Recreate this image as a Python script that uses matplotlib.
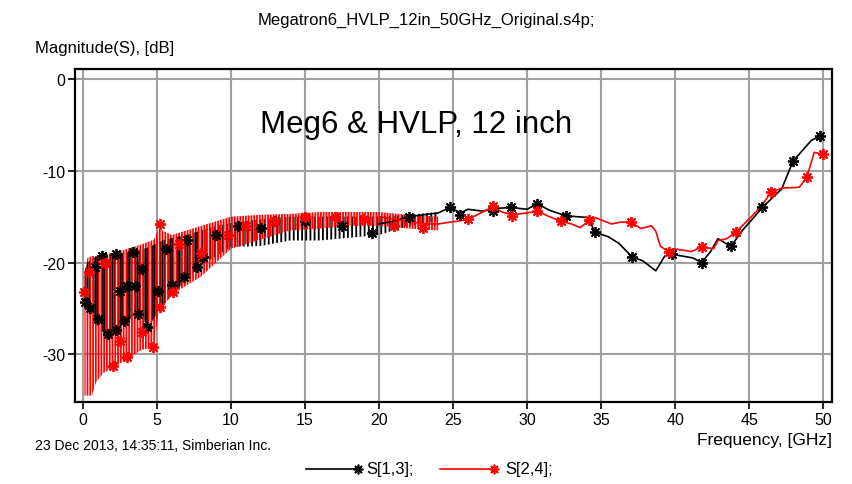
import numpy as np
import matplotlib
matplotlib.use('Agg')
import matplotlib.pyplot as plt
from matplotlib.lines import Line2D

plt.rcParams['font.family'] = ['Liberation Sans', 'DejaVu Sans']
plt.rcParams['axes.unicode_minus'] = False
plt.rcParams['hatch.linewidth'] = 1.3

# ---- data ----
# low-frequency ripple bands (vertical spikes), GHz / dB
blk_band_f  = [0.1, 0.3, 0.7, 1.5, 2.5, 3.5, 4.5, 5.5, 7, 8, 9, 10, 12, 14, 16, 18, 20, 22, 24]
blk_band_hi = [-21, -20, -19.5, -19, -19, -18.8, -18.3, -17.5, -17, -16.5, -16, -15.7, -15.3, -15, -15, -15, -15, -14.8, -14.5]
blk_band_lo = [-24.3, -25.3, -26.3, -27.9, -27.0, -25.8, -26.8, -24.5, -21.8, -20.3, -19.3, -18.3, -18.2, -17.6, -17.6, -17.3, -17, -16, -15.5]

red_band_f  = [0.1, 0.3, 0.6, 0.9, 1.4, 2, 3, 4, 4.8, 5.1, 6, 7, 8, 9, 10, 11, 12, 14, 16, 18, 20, 22, 24]
red_band_hi = [-21.5, -19.5, -19.3, -19.3, -19.2, -19, -18.5, -18, -17.5, -16.3, -17, -16.5, -16, -15.5, -15, -14.9, -14.8, -14.7, -14.5, -14.5, -14.5, -14.8, -15]
red_band_lo = [-34.5, -34.5, -34.5, -33, -32, -31.5, -30.5, -29.5, -29.3, -25.5, -23.5, -22.5, -21.5, -20, -18.5, -18, -17.5, -16.5, -16.3, -16, -16, -16.3, -16.5]

# S[1,3] trace above 20 GHz
s13_f  = [20, 21, 22, 23, 24, 24.8, 25.5, 26, 27, 28, 28.9, 30, 30.7, 31.5, 32.6, 33.3, 34.1, 34.6, 35.5, 36.2, 37.1, 37.8,
          38.7, 39.3, 39.8, 40.5, 41.2, 41.8, 42.4, 42.9, 43.4, 43.8, 44.5, 45.2, 45.9, 46.6, 47.2, 47.6, 48.0, 48.6,
          49.2, 49.7, 50]
s13_db = [-15.8, -15.5, -15, -14.8, -14.6, -14.0, -14.6, -14.2, -14.4, -14.1, -14.0, -14.2, -13.6, -14.3, -14.9, -15.0,
          -15.1, -16.7, -17.2, -17.9, -19.4, -19.8, -20.9, -19.3, -19.1, -19.3, -19.5, -20.0, -18.8, -17.4, -17.9, -18.2,
          -16.6, -15.3, -14.0, -12.9, -12.0, -10.4, -8.9, -7.8, -6.7, -6.3, -6.2]

# S[2,4] trace above 20 GHz
s24_f  = [20, 21, 22, 23, 24, 24.8, 25.3, 26, 27, 27.7, 28.3, 29, 30, 30.7, 31.5, 32.3, 33, 33.6, 34.2, 34.6, 35.7, 36.3,
          37, 37.7, 38.4, 38.7, 39, 39.6, 39.9, 41.1, 41.8, 42.6, 42.9, 43.5, 44.1, 45.1, 45.8, 46.5, 47.2, 48.4, 48.9,
          49.4, 50]
s24_db = [-15, -15.3, -15.5, -15.8, -15.8, -15.6, -15.5, -15.3, -14.5, -13.9, -14.5, -14.8, -14.6, -14.4, -15, -15.5,
          -15.8, -16.2, -15.4, -15.1, -15.8, -15.6, -15.6, -16.3, -16.0, -16.6, -18.2, -18.9, -18.5, -18.8, -18.3, -18.5,
          -17.6, -17.4, -16.7, -15.1, -13.9, -12.3, -11.9, -11.8, -10.7, -8.0, -8.2]

# asterisk markers
s13_mk_f  = [0.15, 0.5, 1.0, 1.7, 2.2, 2.8, 3.7, 4.3, 2.5, 3.0, 3.5, 4.0, 5.1, 6.0, 6.8, 7.7, 8.1, 1.3, 2.2, 3.4, 0.8,
             5.6, 7.0, 9.0, 10.5, 12.0, 13.0, 15.0, 17.5, 19.5, 22.0, 24.8, 25.5, 27.7, 28.9, 30.7, 32.6, 34.6, 37.1,
             39.8, 41.8, 43.8, 45.9, 48.0, 49.8]
s13_mk_db = [-24.3, -25.0, -26.2, -27.8, -27.3, -26.4, -25.6, -27.0, -23.1, -22.6, -22.6, -20.7, -23.1, -22.4, -21.6,
             -20.5, -19.4, -19.3, -19.1, -18.9, -20.5, -18.5, -17.5, -17.0, -16.0, -16.2, -15.5, -15.5, -16.0, -16.8,
             -15.0, -14.0, -14.8, -14.4, -14.0, -13.6, -14.9, -16.7, -19.4, -19.1, -20.0, -18.2, -14.0, -8.9, -6.2]
s24_mk_f  = [0.05, 0.4, 1.5, 2.0, 3.0, 4.7, 5.2, 6.1, 2.5, 4.0, 5.2, 6.5, 8.0, 9.8, 11.0, 13.0, 15.0, 17.0, 19.0, 21.0,
             23.0, 26.0, 27.7, 29.0, 30.7, 32.3, 34.2, 37.0, 39.6, 41.8, 44.1, 46.5, 48.9, 50.0]
s24_mk_db = [-23.2, -21.0, -20.0, -31.3, -30.3, -29.2, -24.9, -23.2, -28.5, -27.6, -15.8, -18.0, -19.0, -17.0, -16.0,
             -15.5, -15.0, -15.0, -15.3, -16.0, -16.2, -15.3, -13.8, -14.9, -14.4, -15.5, -15.4, -15.6, -18.9, -18.3,
             -16.7, -12.3, -10.7, -8.2]

xticks = [0, 5, 10, 15, 20, 25, 30, 35, 40, 45, 50]
yticks = [0, -10, -20, -30]

ast = (8, 2, 0)  # 8-spoke asterisk

fig = plt.figure(figsize=(8.52, 4.85), dpi=100)
ax = fig.add_axes([0.088, 0.169, 0.8885, 0.687])

ax.set_xlim(-0.54, 50.6)
ax.set_ylim(-35.2, 1.1)
ax.set_xticks(xticks)
ax.set_yticks(yticks)
ax.grid(True, color='#a0a0a0', linewidth=1.5)
ax.set_axisbelow(True)
ax.tick_params(direction='out', length=5, width=1.2, labelsize=11.5, pad=2)
for s in ax.spines.values():
    s.set_linewidth(1.6)

# ripple bands drawn as vertical stripes
ax.fill_between(blk_band_f, blk_band_lo, blk_band_hi, facecolor='none', edgecolor='black',
                hatch='||||', linewidth=0)
ax.fill_between(red_band_f, red_band_lo, red_band_hi, facecolor='none', edgecolor='red',
                hatch='||||||', linewidth=0)
# black spikes that show through the red below 8 GHz
ax.fill_between(blk_band_f[:10], blk_band_lo[:10], blk_band_hi[:10], facecolor='none', edgecolor='black',
                hatch='||', linewidth=0)

ax.plot(s13_f, s13_db, color='black', linewidth=1.2)
ax.plot(s24_f, s24_db, color='red', linewidth=1.2)
ax.plot(s13_mk_f, s13_mk_db, linestyle='none', marker=ast, markersize=8, markeredgewidth=1.3,
        color='black')
ax.plot(s24_mk_f, s24_mk_db, linestyle='none', marker=ast, markersize=8, markeredgewidth=1.3,
        color='red')

ax.text(0.45, 0.835, 'Meg6 & HVLP, 12 inch', transform=ax.transAxes, ha='center', va='center',
        fontsize=22.5)

fig.text(0.5, 0.958, 'Megatron6_HVLP_12in_50GHz_Original.s4p;', ha='center', va='center', fontsize=12)
fig.text(0.041, 0.901, 'Magnitude(S), [dB]', ha='left', va='center', fontsize=12)
fig.text(0.977, 0.091, 'Frequency, [GHz]', ha='right', va='center', fontsize=12.5)
fig.text(0.041, 0.081, '23 Dec 2013, 14:35:11, Simberian Inc.', ha='left', va='center', fontsize=10)

# legend row
fig.add_artist(Line2D([0.359, 0.420], [0.031, 0.031], color='black', linewidth=1.2))
fig.add_artist(Line2D([0.420], [0.031], color='black', marker=ast, markersize=7, markeredgewidth=1.2))
fig.text(0.430, 0.031, 'S[1,3];', ha='left', va='center', fontsize=12)
fig.add_artist(Line2D([0.516, 0.580], [0.031, 0.031], color='red', linewidth=1.2))
fig.add_artist(Line2D([0.580], [0.031], color='red', marker=ast, markersize=7, markeredgewidth=1.2))
fig.text(0.593, 0.031, 'S[2,4];', ha='left', va='center', fontsize=12)

fig.savefig('out.png', dpi=100)
